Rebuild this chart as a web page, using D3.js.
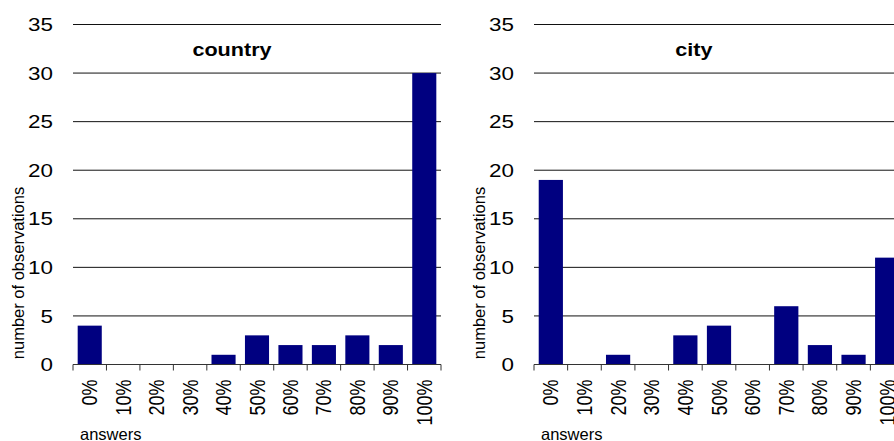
<!DOCTYPE html>
<html>
<head>
<meta charset="utf-8">
<script src="https://cdn.jsdelivr.net/npm/d3@7"></script>
<style>
  html, body { margin: 0; padding: 0; background: #fff; }
  svg { display: block; }
  text { font-family: "Liberation Sans", Arial, sans-serif; fill: #000; }
</style>
</head>
<body>
<svg id="chart" width="894" height="441"></svg>
<script>
// Answer buckets and number of observations per bucket
const categories = ["0%", "10%", "20%", "30%", "40%", "50%", "60%", "70%", "80%", "90%", "100%"];
const countryValues = [4, 0, 0, 0, 1, 3, 2, 2, 3, 2, 30];
const cityValues = [19, 0, 1, 0, 3, 4, 0, 6, 2, 1, 11];
const yTickValues = [0, 5, 10, 15, 20, 25, 30, 35];
const panelTitles = ["country", "city"];
const yAxisTitle = "number of observations";
const xAxisTitle = "answers";

const svg = d3.select("#chart");
const SX = 1.2;           // horizontal stretch of the tick/title lettering
const BAR = "#000080";

const panels = [
  { title: panelTitles[0], values: countryValues, x0: 73, x1: 441 },
  { title: panelTitles[1], values: cityValues, x0: 534, x1: 904 }
];

const y = d3.scaleLinear().domain([0, 35]).range([364.5, 24.5]);

panels.forEach(p => {
  const g = svg.append("g");
  const x = d3.scaleBand().domain(categories).range([p.x0, p.x1])
    .paddingInner(0.28).paddingOuter(0.14);
  const edges = d3.scaleLinear().domain([0, categories.length]).range([p.x0, p.x1]);

  // horizontal gridlines
  g.selectAll("line.grid").data(yTickValues.filter(v => v > 0)).join("line")
    .attr("x1", p.x0).attr("x2", p.x1)
    .attr("y1", d => y(d)).attr("y2", d => y(d))
    .attr("stroke", "#111").attr("stroke-width", 1);

  // bars
  g.selectAll("rect").data(p.values).join("rect")
    .attr("x", (d, i) => x(categories[i]))
    .attr("width", x.bandwidth())
    .attr("y", d => y(d))
    .attr("height", d => y(0) - y(d))
    .attr("fill", BAR);

  // baseline with tick marks between categories
  g.append("line")
    .attr("x1", p.x0).attr("x2", p.x1)
    .attr("y1", y(0)).attr("y2", y(0))
    .attr("stroke", "#333").attr("stroke-width", 1);
  g.selectAll("line.tick").data(d3.range(categories.length + 1)).join("line")
    .attr("x1", d => edges(d)).attr("x2", d => edges(d))
    .attr("y1", y(0)).attr("y2", y(0) + 6)
    .attr("stroke", "#333").attr("stroke-width", 1);

  // y tick labels
  g.selectAll("text.ytick").data(yTickValues).join("text")
    .attr("text-anchor", "end")
    .attr("dy", "0.35em")
    .attr("font-size", 19)
    .attr("transform", d => `translate(${p.x0 - 20},${y(d)}) scale(1.18,1)`)
    .text(d => d);

  // x tick labels, rotated
  g.selectAll("text.xtick").data(categories).join("text")
    .attr("text-anchor", "end")
    .attr("dy", "0.35em")
    .attr("font-size", 18)
    .attr("transform", d => `translate(${x(d) + x.bandwidth() / 2},${y(0) + 15}) scale(${SX},1) rotate(-90)`)
    .text(d => d);

  // panel title
  g.append("text")
    .attr("text-anchor", "middle")
    .attr("font-size", 18)
    .attr("font-weight", "bold")
    .attr("transform", `translate(${p.x0 + (p.x1 - p.x0) * 0.432},56) scale(${SX},1)`)
    .text(p.title);

  // y axis title
  g.append("text")
    .attr("text-anchor", "middle")
    .attr("font-size", 16.5)
    .attr("transform", `translate(${p.x0 - 49},273) scale(0.95,1) rotate(-90)`)
    .text(yAxisTitle);

  // x axis title
  g.append("text")
    .attr("text-anchor", "start")
    .attr("font-size", 16.5)
    .attr("transform", `translate(${p.x0 + 7},440)`)
    .text(xAxisTitle);
});
</script>
</body>
</html>
